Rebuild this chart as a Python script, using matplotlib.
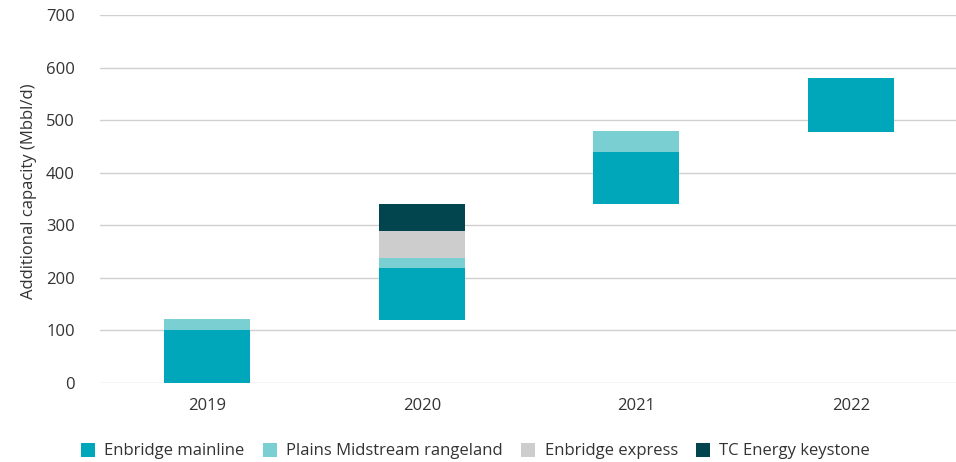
import matplotlib
matplotlib.use("Agg")
import matplotlib.pyplot as plt
from matplotlib.patches import Patch
import numpy as np

plt.rcParams['font.family'] = ['Open Sans', 'DejaVu Sans']

years = ["2019", "2020", "2021", "2022"]
series = ["Enbridge mainline", "Plains Midstream rangeland", "Enbridge express", "TC Energy keystone"]
colors = ["#00A6B9", "#7ACFD3", "#CDCDCD", "#03454F"]
base = [0, 120, 340, 478]
mainline = [100, 99, 99, 102]
plains = [22, 19, 40, 0]
express = [0, 51, 0, 0]
keystone = [0, 51, 0, 0]
values = [mainline, plains, express, keystone]

fig = plt.figure(figsize=(9.56, 4.62), dpi=100)
ax = fig.add_axes([100/956, 1-383/462, 858/956, 368/462])

x = np.arange(len(years))
bottom = np.array(base, dtype=float)
for vals, c in zip(values, colors):
    v = np.array(vals, dtype=float)
    ax.bar(x, v, bottom=bottom, width=0.4, color=c, zorder=3)
    bottom += v

ax.set_xlim(-0.5, 3.5)
ax.set_ylim(0, 700)
ax.set_yticks(range(0, 701, 100))
ax.set_xticks(x)
ax.set_xticklabels(years)
ax.grid(axis='y', color='#D0D0D0', linewidth=1, zorder=0)
ax.set_axisbelow(True)
for s in ax.spines.values():
    s.set_visible(False)
ax.tick_params(axis='both', length=0, labelsize=12, colors='#333333')
ax.tick_params(axis='x', pad=11)
ax.tick_params(axis='y', pad=18)
ax.set_ylabel("Additional capacity (Mbbl/d)", fontsize=12, color='#333333')
ax.yaxis.set_label_coords(-0.074, 0.52)

handles = [Patch(facecolor=c, edgecolor='none') for c in colors]
fig.legend(handles, series, loc='center left', bbox_to_anchor=(66/956, 1-451/462), ncol=4,
           frameon=False, fontsize=12, handlelength=0.85, handleheight=0.95,
           handletextpad=0.55, columnspacing=1.1, labelcolor='#333333')

fig.savefig("out.png", dpi=100)
